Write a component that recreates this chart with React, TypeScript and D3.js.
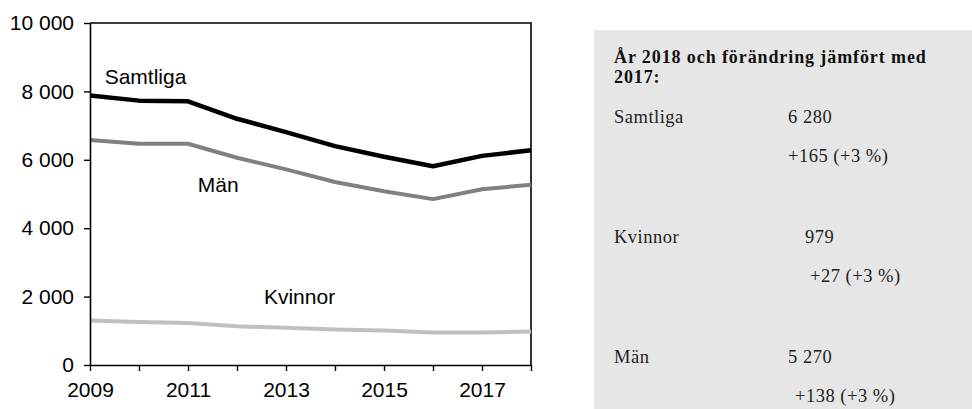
import { useEffect, useRef } from 'react';
import * as d3 from 'd3';

// Line chart: number per year 2009–2018 with a summary panel at the right.

const years = [2009, 2010, 2011, 2012, 2013, 2014, 2015, 2016, 2017, 2018];
const samtliga = [7880, 7730, 7710, 7200, 6810, 6400, 6090, 5810, 6115, 6280];
const man = [6580, 6470, 6470, 6060, 5720, 5350, 5080, 4850, 5140, 5270];
const kvinnor = [1300, 1260, 1230, 1130, 1090, 1040, 1010, 950, 952, 979];

const seriesNames = ['Samtliga', 'Män', 'Kvinnor'];
const seriesColors = ['#000000', '#808080', '#c0c0c0'];
const yTicks = [0, 2000, 4000, 6000, 8000, 10000];
const xTickLabels = [2009, 2011, 2013, 2015, 2017];

const panelTitle = ['År 2018 och förändring jämfört med', '2017:'];
const panelNames = ['Samtliga', 'Kvinnor', 'Män'];
const panelValues = ['6 280', '979', '5 270'];
const panelChanges = ['+165 (+3 %)', '+27 (+3 %)', '+138 (+3 %)'];

const W = 972;
const H = 409;
const margin = { top: 23, right: 441, bottom: 44, left: 90 };

const fmt = (v: number) => d3.format(',')(v).replace(/,/g, ' ');

export default function App() {
  const svgRef = useRef<SVGSVGElement>(null);

  useEffect(() => {
    if (!svgRef.current) return;
    const svg = d3.select(svgRef.current);
    svg.selectAll('*').remove();

    const iw = W - margin.left - margin.right;
    const ih = H - margin.top - margin.bottom;

    const x = d3.scaleLinear().domain([2009, 2018]).range([0, iw]);
    const y = d3.scaleLinear().domain([0, 10000]).range([ih, 0]);

    const g = svg.append('g').attr('transform', `translate(${margin.left},${margin.top})`);

    // plot frame (top + right)
    g.append('path')
      .attr('d', `M0,0H${iw}V${ih}`)
      .attr('fill', 'none')
      .attr('stroke', '#000')
      .attr('stroke-width', 1.6);

    // lines
    const data = [samtliga, man, kvinnor];
    const line = d3.line<number>()
      .x((_d, i) => x(years[i]))
      .y((d) => y(d));

    [2, 1, 0].forEach((k) => {
      g.append('path')
        .datum(data[k])
        .attr('d', line)
        .attr('fill', 'none')
        .attr('stroke', seriesColors[k])
        .attr('stroke-width', k === 0 ? 4.5 : 4)
        .attr('stroke-linejoin', 'round');
    });

    // axes
    const yAxis = g.append('g')
      .call(d3.axisLeft(y).tickValues(yTicks).tickSize(6).tickSizeOuter(0).tickPadding(10).tickFormat((d) => fmt(+d)));
    const xAxis = g.append('g')
      .attr('transform', `translate(0,${ih})`)
      .call(d3.axisBottom(x).tickValues(years).tickSize(6).tickSizeOuter(0).tickPadding(11)
        .tickFormat((d) => (xTickLabels.includes(+d) ? String(d) : '')));

    [yAxis, xAxis].forEach((a) => {
      a.select('.domain').attr('stroke', '#000').attr('stroke-width', 1.6);
      a.selectAll('.tick line').attr('stroke', '#000').attr('stroke-width', 1.4);
      a.selectAll('.tick text')
        .attr('fill', '#000')
        .style('font-family', 'Liberation Sans, Arial, sans-serif')
        .style('font-size', '21px');
    });

    // line labels
    const labelPos = [
      { yr: 2009.3, v: 8230 },
      { yr: 2011.2, v: 5050 },
      { yr: 2012.55, v: 1770 },
    ];
    seriesNames.forEach((name, k) => {
      g.append('text')
        .attr('x', x(labelPos[k].yr))
        .attr('y', y(labelPos[k].v))
        .attr('fill', '#000')
        .style('font-family', 'Liberation Sans, Arial, sans-serif')
        .style('font-size', '21px')
        .text(name);
    });

    // summary panel
    const p = svg.append('g');
    p.append('rect')
      .attr('x', 594)
      .attr('y', 30)
      .attr('width', W - 594)
      .attr('height', H - 30)
      .attr('fill', '#e6e6e6');

    const serif = 'Liberation Serif, Times New Roman, serif';
    panelTitle.forEach((t, i) => {
      p.append('text')
        .attr('x', 614)
        .attr('y', 63 + i * 20)
        .attr('fill', '#111')
        .style('font-family', serif)
        .style('font-weight', 'bold')
        .style('font-size', '18px')
        .style('letter-spacing', '0.9px')
        .text(t);
    });

    const valueX = [788, 805, 788];
    const changeX = [788, 810, 795];
    const txt = (xx: number, yy: number, s: string) =>
      p.append('text')
        .attr('x', xx).attr('y', yy)
        .attr('fill', '#222')
        .style('font-family', serif)
        .style('font-size', '18.5px')
        .style('letter-spacing', '0.5px')
        .text(s);
    panelNames.forEach((name, i) => {
      const by = 123 + i * 120;
      txt(614, by, name);
      txt(valueX[i], by, panelValues[i]);
      txt(changeX[i], by + 39, panelChanges[i]);
    });
  }, []);

  return (
    <svg
      ref={svgRef}
      width={W}
      height={H}
      style={{ position: 'absolute', left: 0, top: 0, background: '#fff', display: 'block' }}
    />
  );
}
